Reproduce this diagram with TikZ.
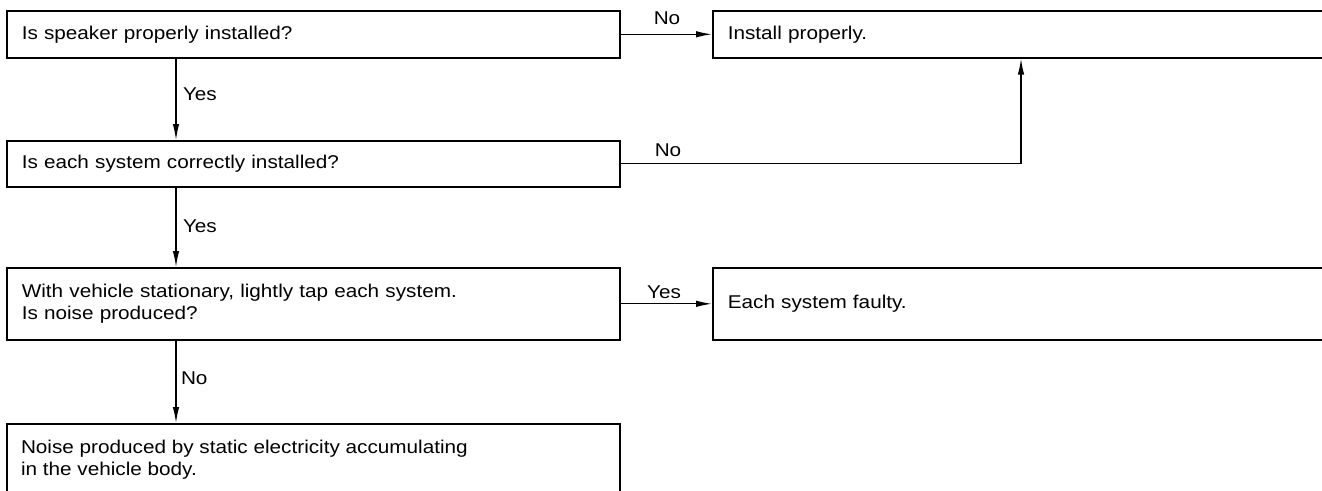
\documentclass[tikz,border=0pt]{standalone}
\usepackage{fontspec}
\setmainfont[FakeStretch=1.12]{Liberation Sans}
\usetikzlibrary{arrows.meta}

\begin{document}
\begin{tikzpicture}[x=1pt,y=-1pt,
	box/.style={draw,line width=1.6pt,rectangle,anchor=north west,inner xsep=15pt,inner ysep=0pt,align=left},
	arr/.style={line width=1.3pt,-{Latex[length=16pt,width=6.5pt]}},
	lbl/.style={inner sep=0pt,outer sep=0pt}]
	\fontsize{18.5}{22.5}\selectfont
	\useasboundingbox (0,0) rectangle (1322,490);
	\node[box,minimum width=613pt,minimum height=47pt,text width=583pt] (q1) at (6,10) {Is speaker properly installed?};
	\node[box,minimum width=628pt,minimum height=47pt,text width=598pt] (fix) at (712,10) {Install properly.};
	\node[box,minimum width=613pt,minimum height=46pt,text width=583pt] (q2) at (6,140) {Is each system correctly installed?};
	\node[box,minimum width=613pt,minimum height=72pt,text width=583pt] (q3) at (6,267) {With vehicle stationary, lightly tap each system.\\Is noise produced?};
	\node[box,minimum width=628pt,minimum height=72pt,text width=598pt] (bad) at (712,267) {Each system faulty.};
	\node[box,minimum width=613pt,minimum height=80pt,text width=583pt,anchor=north west] (res) at (6,423) {};
	\node[lbl,anchor=west] (restxt) at (21,449) {Noise produced by static electricity accumulating};
	\node[lbl,anchor=west] (restxt2) at (21,471) {in the vehicle body.};
	\draw[arr] (q1.east) -- (fix.west);
	\draw[arr] ([xshift=170pt]q1.south west) -- ([xshift=170pt]q2.north west);
	\draw[arr] (q2.east) -| ([xshift=309pt]fix.south west);
	\draw[arr] ([xshift=170pt]q2.south west) -- ([xshift=170pt]q3.north west);
	\draw[arr] (q3.east) -- (bad.west);
	\draw[arr] ([xshift=170pt]q3.south west) -- ([xshift=170pt]res.north west);
	\node[lbl] (no1) at (667,18) {No};
	\node[lbl,anchor=west] (yes1) at (183,94) {Yes};
	\node[lbl] (no2) at (668,150) {No};
	\node[lbl,anchor=west] (yes2) at (183,226) {Yes};
	\node[lbl] (yes3) at (664,292) {Yes};
	\node[lbl,anchor=west] (no3) at (181,378) {No};
\end{tikzpicture}
\end{document}
